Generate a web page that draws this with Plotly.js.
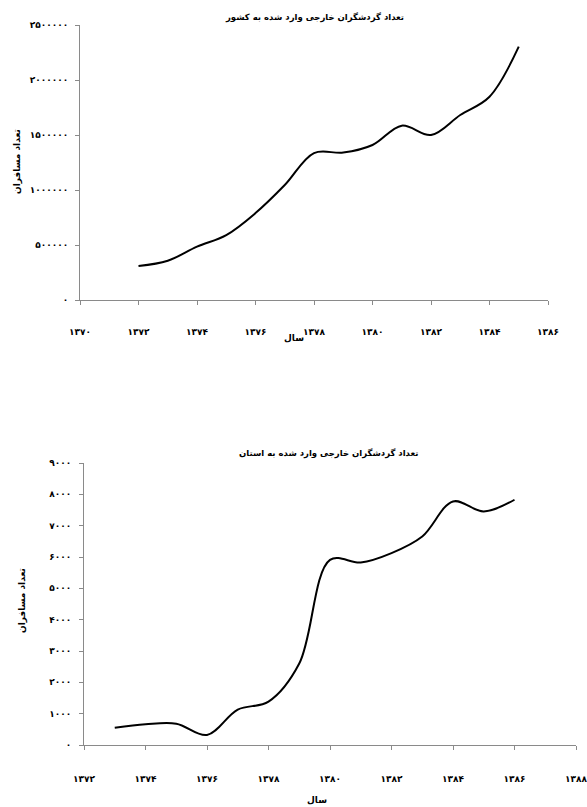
<!DOCTYPE html>
<html>
<head>
<meta charset="utf-8">
<script src="https://cdn.plot.ly/plotly-3.0.1.min.js"></script>
<style>
html,body{margin:0;padding:0;background:#fff;}
#chart{width:587px;height:807px;}
</style>
</head>
<body>
<div id="chart"></div>
<script>
// ---- Data ----
const titleNational = 'تعداد گردشگران خارجی وارد شده به کشور';
const titleProvince = 'تعداد گردشگران خارجی وارد شده به استان';
const yTitle = 'تعداد مسافران';
const xTitle = 'سال';

const yearsNational = [1372, 1373, 1374, 1375, 1376, 1377, 1378, 1379, 1380, 1381, 1382, 1383, 1384, 1385];
const visitorsNational = [309000, 357000, 485000, 590000, 790000, 1045000, 1336000, 1340000, 1409000, 1585000, 1500000, 1682000, 1848000, 2303000];

const yearsProvince = [1373, 1374, 1375, 1376, 1377, 1378, 1379, 1380, 1381, 1382, 1383, 1384, 1385, 1386];
const visitorsProvince = [553, 661, 680, 320, 1130, 1384, 2600, 5910, 5825, 6125, 6655, 7773, 7454, 7827];

const xTickValsNational = [1370, 1372, 1374, 1376, 1378, 1380, 1382, 1384, 1386];
const xTickTextNational = ['۱۳۷۰', '۱۳۷۲', '۱۳۷۴', '۱۳۷۶', '۱۳۷۸', '۱۳۸۰', '۱۳۸۲', '۱۳۸۴', '۱۳۸۶'];
const yTickValsNational = [0, 500000, 1000000, 1500000, 2000000, 2500000];
const yTickTextNational = ['۰', '۵۰۰۰۰۰', '۱۰۰۰۰۰۰', '۱۵۰۰۰۰۰', '۲۰۰۰۰۰۰', '۲۵۰۰۰۰۰'];

const xTickValsProvince = [1372, 1374, 1376, 1378, 1380, 1382, 1384, 1386, 1388];
const xTickTextProvince = ['۱۳۷۲', '۱۳۷۴', '۱۳۷۶', '۱۳۷۸', '۱۳۸۰', '۱۳۸۲', '۱۳۸۴', '۱۳۸۶', '۱۳۸۸'];
const yTickValsProvince = [0, 1000, 2000, 3000, 4000, 5000, 6000, 7000, 8000, 9000];
const yTickTextProvince = ['۰', '۱۰۰۰', '۲۰۰۰', '۳۰۰۰', '۴۰۰۰', '۵۰۰۰', '۶۰۰۰', '۷۰۰۰', '۸۰۰۰', '۹۰۰۰'];

// ---- Figure ----
const W = 587, H = 807;
const px = v => v / W;
const py = v => 1 - v / H;
const FONT = 'DejaVu Sans, sans-serif';
const axisCol = '#8a8a8a';

const traces = [
  {x: yearsNational, y: visitorsNational, xaxis: 'x', yaxis: 'y', type: 'scatter', mode: 'lines',
   line: {color: '#000', width: 2, shape: 'spline', smoothing: 1}, hoverinfo: 'x+y', showlegend: false},
  {x: yearsProvince, y: visitorsProvince, xaxis: 'x2', yaxis: 'y2', type: 'scatter', mode: 'lines',
   line: {color: '#000', width: 2, shape: 'spline', smoothing: 1}, hoverinfo: 'x+y', showlegend: false}
];

const tickFont = {family: FONT, size: 9, color: '#000', weight: 'bold'};

function xAxis(range, vals, text, domain, anchor, standoff) {
  return {domain: domain, anchor: anchor, range: range, tickmode: 'array', tickvals: vals, ticktext: text,
    showline: true, linecolor: axisCol, linewidth: 1, ticks: 'outside', ticklen: 4, tickcolor: axisCol,
    showgrid: false, zeroline: false, tickfont: tickFont, ticklabelstandoff: standoff,
    ticklabeloverflow: 'allow', fixedrange: true};
}
function yAxis(range, vals, text, domain, anchor, standoff) {
  return {domain: domain, anchor: anchor, range: range, tickmode: 'array', tickvals: vals, ticktext: text,
    showline: true, linecolor: axisCol, linewidth: 1, ticks: 'outside', ticklen: 4, tickcolor: axisCol,
    showgrid: false, zeroline: false, tickfont: tickFont, ticklabelstandoff: standoff,
    ticklabeloverflow: 'allow', fixedrange: true};
}

const layout = {
  width: W, height: H,
  margin: {l: 0, r: 0, t: 0, b: 0},
  paper_bgcolor: '#fff', plot_bgcolor: '#fff',
  showlegend: false,
  font: {family: FONT, color: '#000'},
  title: {text: titleNational, x: px(315), xanchor: 'center', y: py(17), yanchor: 'middle',
          font: {family: FONT, size: 8.5, color: '#000', weight: 'bold'}},
  xaxis: xAxis([1370, 1386], xTickValsNational, xTickTextNational, [px(80), px(548)], 'y', 19),
  yaxis: yAxis([0, 2500000], yTickValsNational, yTickTextNational, [py(300), py(25)], 'x', 5),
  xaxis2: xAxis([1372, 1388], xTickValsProvince, xTickTextProvince, [px(84), px(576)], 'y2', 21),
  yaxis2: yAxis([0, 9000], yTickValsProvince, yTickTextProvince, [py(745), py(463)], 'x2', 6),
  annotations: [
    {text: titleProvince, xref: 'paper', yref: 'paper', x: px(329), y: py(454), xanchor: 'center', yanchor: 'middle',
     showarrow: false, font: {family: FONT, size: 8.5, color: '#000', weight: 'bold'}},
    {text: yTitle, xref: 'paper', yref: 'paper', x: px(18), y: py(162), xanchor: 'center', yanchor: 'middle',
     textangle: -90, showarrow: false, font: {family: FONT, size: 9, color: '#000', weight: 'bold'}},
    {text: xTitle, xref: 'paper', yref: 'paper', x: px(294), y: py(338), xanchor: 'center', yanchor: 'middle',
     showarrow: false, font: {family: FONT, size: 9, color: '#000', weight: 'bold'}},
    {text: yTitle, xref: 'paper', yref: 'paper', x: px(22), y: py(601), xanchor: 'center', yanchor: 'middle',
     textangle: -90, showarrow: false, font: {family: FONT, size: 9, color: '#000', weight: 'bold'}},
    {text: xTitle, xref: 'paper', yref: 'paper', x: px(317), y: py(800), xanchor: 'center', yanchor: 'middle',
     showarrow: false, font: {family: FONT, size: 9, color: '#000', weight: 'bold'}}
  ]
};

Plotly.newPlot('chart', traces, layout, {displayModeBar: false, staticPlot: true});
</script>
</body>
</html>
